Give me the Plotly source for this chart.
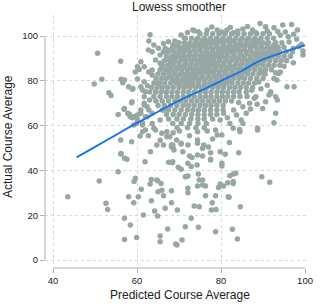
import plotly.graph_objects as go

# ---------------- data ----------------
# Lowess smoother curve
lowess_x = [45.6, 50, 55, 60, 65, 70, 75, 80, 85, 88, 90, 95, 100]
lowess_y = [45.8, 50.5, 55.9, 61.2, 66.2, 71.2, 75.5, 80.0, 84.5, 87.8, 89.6, 92.9, 95.9]

# Dense core of the cloud: one row of predicted values per actual-average level
core_levels = [101, 99, 97, 95, 93, 91, 89, 87, 85, 83, 81, 79, 77, 75, 73, 71, 69, 67, 65, 63, 61, 59]
core_rows = [
    [75, 76.5, 78, 79.5, 81, 82.5, 84, 85.5, 87, 88.5, 90],
    [71.5, 73, 74.5, 76, 77.5, 79, 80.5, 82, 83.5, 85, 86.5, 88, 89.5, 91, 92.5],
    [70, 71.3, 72.6, 74, 75.3, 76.6, 78, 79.3, 80.6, 82, 83.3, 84.6, 86, 87.3, 88.6, 90, 91.3, 93, 94.5],
    [68.5, 69.8, 71, 72.3, 73.6, 75, 76.3, 77.6, 79, 80.3, 81.6, 83, 84.3, 85.6, 87, 88.3, 89.6, 91, 92.3, 93.6, 95],
    [67.5, 68.8, 70, 71.3, 72.6, 74, 75.3, 76.6, 78, 79.3, 80.6, 82, 83.3, 84.6, 86, 87.3, 88.6, 90, 91.3, 92.6, 94, 95.5, 97],
    [67, 68.3, 69.6, 71, 72.3, 73.6, 75, 76.3, 77.6, 79, 80.3, 81.6, 83, 84.3, 85.6, 87, 88.3, 89.6, 91, 92.3, 93.6, 95, 96.5],
    [66.5, 67.8, 69, 70.3, 71.6, 73, 74.3, 75.6, 77, 78.3, 79.6, 81, 82.3, 83.6, 85, 86.3, 87.6, 89, 90.3, 91.6, 93, 94.3, 95.6],
    [66, 67.3, 68.6, 70, 71.3, 72.6, 74, 75.3, 76.6, 78, 79.3, 80.6, 82, 83.3, 84.6, 86, 87.3, 88.6, 90, 91.3, 92.6, 94],
    [65.5, 66.8, 68, 69.3, 70.6, 72, 73.3, 74.6, 76, 77.3, 78.6, 80, 81.3, 82.6, 84, 85.3, 86.6, 88, 89.3, 90.6, 92],
    [65, 66.3, 67.6, 69, 70.3, 71.6, 73, 74.3, 75.6, 77, 78.3, 79.6, 81, 82.3, 83.6, 85, 86.3, 87.6, 89, 90.5],
    [64.5, 65.8, 67, 68.3, 69.6, 71, 72.3, 73.6, 75, 76.3, 77.6, 79, 80.3, 81.6, 83, 84.3, 85.6, 87, 88.5, 90],
    [64, 65.3, 66.6, 68, 69.3, 70.6, 72, 73.3, 74.6, 76, 77.3, 78.6, 80, 81.3, 82.6, 84, 85.3, 86.6, 88],
    [63.5, 64.8, 66, 67.3, 68.6, 70, 71.3, 72.6, 74, 75.3, 76.6, 78, 79.3, 80.6, 82, 83.3, 84.6, 86, 87.5],
    [63, 64.5, 65.8, 67, 68.3, 69.6, 71, 72.3, 73.6, 75, 76.3, 77.6, 79, 80.3, 81.6, 83, 84.3, 86],
    [64, 65.5, 67, 68.3, 69.6, 71, 72.3, 73.6, 75, 76.3, 77.6, 79, 80.3, 81.6, 83, 84.5],
    [64.5, 66, 67.5, 69, 70.3, 71.6, 73, 74.3, 75.6, 77, 78.3, 79.6, 81, 82.5],
    [65, 66.5, 68, 69.5, 71, 72.3, 73.6, 75, 76.3, 77.6, 79, 80.5],
    [66, 67.5, 69, 70.5, 72, 73.3, 74.6, 76, 77.5, 79, 80.5],
    [67, 68.6, 70, 71.5, 73, 74.5, 76, 77.5, 79],
    [67.5, 69.5, 71, 72.8, 74.5, 76, 78],
    [68.5, 70.5, 72.5, 74.5, 76.5],
    [69.5, 72, 74, 76],
]

# Extra points filling the solid heart of the cloud, between the rows above
heart_levels = [98, 96, 94, 92, 90, 88, 86, 84, 82, 80, 78]
heart_rows = [
    [74, 75.6, 77, 78.6, 80, 81.6, 83, 84.6, 86, 87.6, 89],
    [71.6, 73, 74.6, 76, 77.6, 79, 80.6, 82, 83.6, 85, 86.6, 88, 89.6, 91, 92.6],
    [70.6, 72, 73.6, 75, 76.6, 78, 79.6, 81, 82.6, 84, 85.6, 87, 88.6, 90, 91.6, 93],
    [69.6, 71, 72.6, 74, 75.6, 77, 78.6, 80, 81.6, 83, 84.6, 86, 87.6, 89, 90.6, 92, 93.6],
    [69, 70.6, 72, 73.6, 75, 76.6, 78, 79.6, 81, 82.6, 84, 85.6, 87, 88.6, 90, 91.6],
    [68.6, 70, 71.6, 73, 74.6, 76, 77.6, 79, 80.6, 82, 83.6, 85, 86.6, 88, 89.6],
    [68, 69.6, 71, 72.6, 74, 75.6, 77, 78.6, 80, 81.6, 83, 84.6, 86, 87.6],
    [67.6, 69, 70.6, 72, 73.6, 75, 76.6, 78, 79.6, 81, 82.6, 84, 85.6],
    [68, 69.6, 71, 72.6, 74, 75.6, 77, 78.6, 80, 81.6, 83, 84.6],
    [68.6, 70, 71.6, 73, 74.6, 76, 77.6, 79, 80.6, 82],
    [70, 71.6, 73, 74.6, 76, 77.6, 79, 80.6],
]

# Scattered points around the core: (predicted, actual)
upper_left_pts = [
    (50.6, 92.3), (49.8, 78.6), (51.6, 80.7), (53.3, 74.7), (53.8, 73.5), (56.1, 88.8),
    (56.2, 80.7), (56.6, 79.2), (55.5, 65.0), (56.9, 67.3), (58.0, 77.4), (58.9, 76.2),
    (58.8, 70.7), (58.2, 65.0), (58.9, 63.5), (59.6, 84.0), (60.5, 85.1), (60.9, 88.5),
    (60.1, 80.8), (60.9, 77.4), (59.9, 64.3), (60.9, 67.0), (61.3, 61.3), (62.4, 68.4),
    (61.7, 69.2), (63.1, 100.6), (62.8, 97.8), (64.0, 96.0), (63.6, 93.0), (64.4, 89.3),
    (62.8, 84.0), (63.6, 82.6), (61.7, 79.6), (62.0, 75.1), (64.4, 75.1), (61.7, 72.9),
    (65.5, 91.5), (66.7, 94.5), (67.5, 97.5), (68.6, 96.0), (67.8, 89.3), (65.9, 86.3),
    (65.1, 78.9), (66.3, 67.0), (65.5, 62.5), (63.6, 65.5), (64.0, 58.8), (65.9, 56.6),
    (62.7, 93.8), (65.1, 94.5), (66.3, 96.7), (69.0, 97.8), (71.3, 99.0), (66.3, 93.0),
    (67.8, 93.8), (69.4, 95.2), (60.1, 86.3), (61.7, 86.3), (63.6, 84.8), (65.5, 87.8),
    (68.2, 87.1), (68.6, 90.8), (70.9, 91.5), (72.1, 90.0), (57.0, 67.7), (58.0, 65.2),
    (58.4, 64.0), (59.3, 64.0), (58.7, 70.2), (60.1, 64.7), (60.9, 65.5), (59.9, 61.0),
    (59.2, 60.3), (61.3, 60.3), (62.0, 58.0), (62.0, 64.0), (57.0, 80.4), (59.0, 76.6),
    (57.8, 65.5), (58.6, 64.0), (60.1, 62.5), (61.3, 75.9), (61.7, 70.0), (62.8, 67.0),
    (62.4, 64.0), (63.6, 61.0), (61.3, 57.3), (64.4, 58.0), (63.0, 71.5), (62.5, 77.8),
]
top_edge_pts = [
    (73.3, 102.7), (74.6, 101.9), (76.7, 102.7), (79.1, 102.7), (81.4, 102.7), (85.2, 103.1),
    (87.5, 102.7), (89.3, 105.6), (90.6, 104.2), (92.6, 103.7), (94.7, 104.9), (96.8, 105.2),
    (98.2, 102.7), (94.1, 100.4), (96.0, 99.7), (99.5, 93.3), (98.5, 95.2), (99.1, 96.3),
    (97.2, 94.5), (73.6, 102.4), (83.0, 101.5), (91.5, 101.0), (70.5, 100.5), (72.0, 101.6),
    (77.8, 104.0), (80.2, 101.8), (82.2, 103.8), (84.0, 102.3), (86.3, 104.3), (88.2, 101.6),
    (91.0, 102.2), (93.5, 102.0), (95.3, 101.8), (97.3, 100.8), (96.2, 97.3), (98.0, 98.6),
]
right_pts = [
    (97.2, 88.1), (99.5, 91.5), (95.7, 77.4), (97.4, 77.4), (93.3, 80.4), (93.0, 83.6),
    (94.1, 84.0), (91.8, 75.1), (90.6, 70.7), (93.0, 65.5), (88.3, 72.9), (91.4, 73.7),
    (89.9, 67.7), (93.7, 83.3), (92.6, 81.1), (91.8, 74.4), (93.0, 72.9), (93.4, 71.4),
    (92.6, 61.3), (88.7, 58.8), (87.9, 72.2), (86.8, 70.0), (85.2, 68.4), (83.7, 64.7),
    (84.8, 62.5), (85.2, 61.0), (82.1, 61.0), (80.6, 65.5), (79.8, 62.5), (78.7, 58.0),
    (82.9, 58.8), (84.4, 58.3), (81.5, 63.5), (83.0, 67.0), (86.0, 65.5), (89.0, 79.5),
    (91.0, 78.0), (90.0, 83.5), (95.0, 86.5), (96.5, 91.0), (87.3, 75.8), (89.5, 76.5),
    (86.2, 73.0), (88.6, 69.6), (84.2, 70.3), (87.0, 67.4),
]
lower_pts = [
    (81.0, 47.2), (84.2, 47.9), (77.5, 44.6), (80.2, 43.2), (80.2, 42.0), (82.1, 37.6),
    (82.9, 38.4), (83.5, 38.7), (89.7, 37.2), (91.6, 34.7), (82.9, 34.2), (81.6, 34.5),
    (80.6, 33.0), (79.4, 32.4), (81.9, 28.0), (84.6, 23.8), (78.7, 28.7), (77.9, 25.6),
    (78.8, 22.6), (77.7, 22.3), (74.8, 23.8), (73.6, 24.1), (76.3, 28.7), (76.3, 33.0),
    (74.4, 33.0), (75.6, 35.7), (74.6, 38.4), (72.1, 32.0), (72.1, 30.0), (68.2, 30.9),
    (68.2, 25.6), (69.6, 22.3), (72.9, 18.6), (71.5, 14.9), (74.6, 14.6), (78.7, 12.6),
    (82.7, 13.7), (83.9, 9.4), (70.7, 8.9), (69.5, 6.7), (67.3, 13.8), (68.4, 43.4),
    (67.5, 43.6), (69.8, 41.4), (70.5, 40.5), (72.1, 37.5), (71.5, 37.2), (75.6, 33.5),
    (79.8, 33.9), (82.9, 35.0), (68.5, 51.3), (70.5, 51.8), (68.8, 49.1), (70.9, 48.3),
    (73.1, 45.8), (72.9, 41.7), (72.1, 43.2), (72.5, 46.4), (74.3, 42.4), (74.8, 35.7),
    (75.6, 46.4), (77.5, 47.9), (79.8, 48.3), (81.7, 28.3), (67.1, 57.3), (68.6, 56.8),
    (70.1, 57.6), (74.4, 57.3), (76.7, 57.6), (79.1, 55.8), (80.2, 55.8), (84.5, 57.3),
    (88.7, 58.0), (67.8, 55.0), (69.4, 53.6), (70.5, 52.1), (72.1, 51.3), (74.4, 53.6),
    (74.4, 52.1), (75.9, 51.3), (75.6, 49.9), (68.2, 51.3), (68.6, 49.9), (74.4, 46.9),
    (77.5, 45.0), (78.0, 54.0), (82.0, 52.5), (77.0, 50.5), (72.5, 55.5),
]
lower_left_pts = [
    (43.5, 28.3), (51.0, 35.3), (52.6, 25.3), (53.0, 22.6), (55.5, 39.4), (56.1, 47.3),
    (57.0, 45.4), (57.6, 45.0), (56.1, 53.6), (58.7, 52.8), (60.7, 55.4), (57.0, 18.6),
    (58.4, 15.6), (57.0, 9.2), (59.9, 10.1), (59.3, 35.0), (59.6, 36.5), (58.0, 28.3),
    (59.2, 25.6), (60.3, 28.3), (61.0, 31.6), (61.5, 20.1), (61.9, 43.9), (63.2, 48.3),
    (63.1, 33.9), (63.4, 26.5), (64.2, 21.9), (64.7, 35.7), (64.9, 19.6), (65.7, 34.2),
    (65.0, 30.5), (65.9, 31.2), (66.3, 28.7), (66.7, 23.1), (65.5, 10.7), (65.5, 8.2),
    (69.2, 7.1), (63.4, 36.0), (64.9, 35.4), (64.7, 51.3), (66.3, 51.3), (67.1, 55.0),
    (68.2, 50.6), (68.5, 43.9), (56.2, 47.6), (62.7, 55.5), (65.5, 53.5),
]

# ---------------- build point arrays ----------------
pts_x, pts_y = [], []
for levels, rows in ((core_levels, core_rows), (heart_levels, heart_rows)):
    for lvl, row in zip(levels, rows):
        for xv in row:
            pts_x.append(xv)
            pts_y.append(lvl)
for group in (upper_left_pts, top_edge_pts, right_pts, lower_pts, lower_left_pts):
    for xv, yv in group:
        pts_x.append(xv)
        pts_y.append(yv)

FONT = "Liberation Sans, Arial, sans-serif"
AXIS_COL = "#a7b1af"
GRID_COL = "#d6d9d9"
TEXT_COL = "#222222"

fig = go.Figure()
fig.add_trace(go.Scatter(
    x=pts_x, y=pts_y, mode="markers",
    marker=dict(size=5.5, color="#97a7a4", line=dict(width=0)),
    hoverinfo="skip", showlegend=False,
))
fig.add_trace(go.Scatter(
    x=lowess_x, y=lowess_y, mode="lines",
    line=dict(color="#1a74e6", width=1.9, shape="spline"),
    hoverinfo="skip", showlegend=False,
))

fig.update_layout(
    width=322, height=304,
    margin=dict(l=45, r=9, t=15, b=36, pad=0),
    paper_bgcolor="white", plot_bgcolor="white",
    showlegend=False,
    font=dict(family=FONT, color=TEXT_COL),
    xaxis=dict(
        range=[38.08, 100.23], tickvals=[40, 60, 80, 100],
        ticks="outside", ticklen=4, tickcolor=AXIS_COL, tickwidth=1,
        showgrid=True, gridcolor=GRID_COL, griddash="dot", gridwidth=1,
        zeroline=False, showline=False,
        tickfont=dict(size=9.5, family=FONT, color=TEXT_COL),
    ),
    yaxis=dict(
        range=[-3.57, 109.4], tickvals=[0, 20, 40, 60, 80, 100],
        ticks="outside", ticklen=4, tickcolor=AXIS_COL, tickwidth=1,
        showgrid=True, gridcolor=GRID_COL, griddash="dot", gridwidth=1,
        zeroline=False, showline=False,
        tickfont=dict(size=9.5, family=FONT, color=TEXT_COL),
    ),
    shapes=[
        dict(type="line", xref="paper", yref="y", x0=0, x1=0, y0=0, y1=100,
             line=dict(color=AXIS_COL, width=1)),
        dict(type="line", xref="x", yref="paper", x0=40, x1=100, y0=0, y1=0,
             line=dict(color=AXIS_COL, width=1)),
    ],
    annotations=[
        dict(text="Lowess smoother", xref="paper", yref="paper",
             x=(182.5 - 45) / 268, y=(304 - 36 - 7) / 253,
             xanchor="center", yanchor="middle", showarrow=False,
             font=dict(size=12, family=FONT, color=TEXT_COL)),
        dict(text="Predicted Course Average", xref="paper", yref="paper",
             x=(183.5 - 45) / 268, y=-(295 - 268) / 253,
             xanchor="center", yanchor="middle", showarrow=False,
             font=dict(size=12, family=FONT, color=TEXT_COL)),
        dict(text="Actual Course Average", xref="paper", yref="paper",
             x=-(45 - 7) / 268, y=(268 - 136) / 253, textangle=-90,
             xanchor="center", yanchor="middle", showarrow=False,
             font=dict(size=12, family=FONT, color=TEXT_COL)),
    ],
)

fig.write_html(
    "out.html",
    config={"displayModeBar": False, "staticPlot": True},
    post_script="document.body.style.margin='0';document.body.style.overflow='hidden';",
)
